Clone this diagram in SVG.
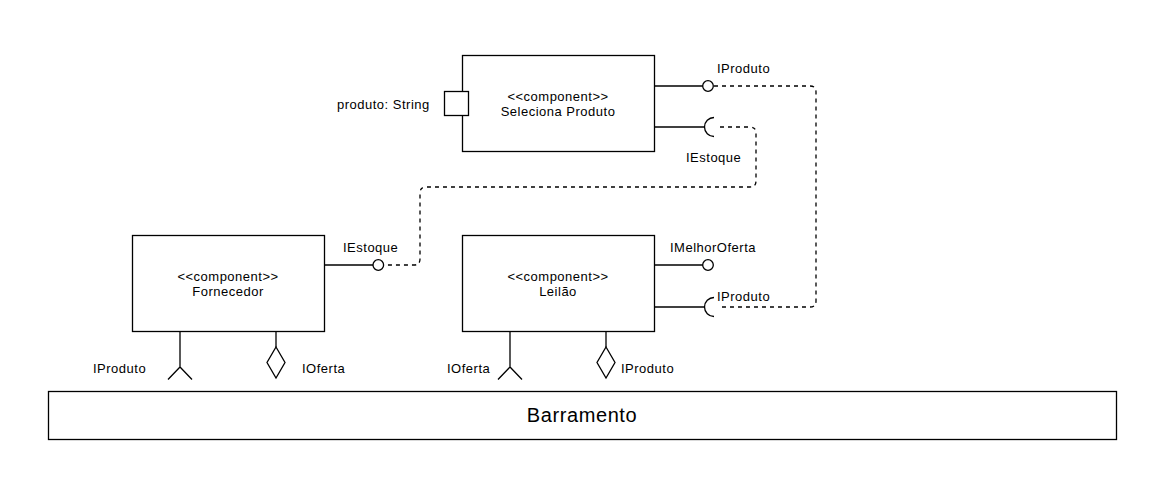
<svg xmlns="http://www.w3.org/2000/svg" width="1169" height="491" viewBox="0 0 1169 491">
<style>
.box{fill:#fff;stroke:#000;stroke-width:1.3}
.ln{fill:none;stroke:#000;stroke-width:1.3}
.dash{fill:none;stroke:#000;stroke-width:1.3;stroke-dasharray:4 4}
.lolli{fill:#fff;stroke:#000;stroke-width:1.3}
text{font-family:"Liberation Sans",Arial,sans-serif;font-size:13px;letter-spacing:0.5px;fill:#000}
.c{text-anchor:middle}
.big{font-size:20px;letter-spacing:0.6px}
</style>
<rect width="1169" height="491" fill="#fff"/>
<g id="connectors">
<path class="dash" d="M720,127 H750 Q756,127 756,133 V181 Q756,187 750,187 H426 Q420,187 420,193 V259 Q420,265 414,265 H383.5"/>
<path class="dash" d="M714,86 H810 Q816,86 816,92 V301 Q816,307 810,307 H720"/>
</g>
<g id="seleciona-produto">
<rect class="box" x="462.5" y="55.5" width="192" height="96"/>
<text class="c" x="558" y="100.5">&lt;&lt;component&gt;&gt;</text>
<text class="c" x="558" y="116">Seleciona Produto</text>
<rect class="box" x="444.5" y="91.5" width="24" height="24"/>
<text x="337" y="108.5">produto: String</text>
<path class="ln" d="M654.5,86 H703"/>
<circle class="lolli" cx="708" cy="86" r="5.3"/>
<text x="717" y="72.5">IProduto</text>
<path class="ln" d="M654.5,127 H704.5"/>
<path class="ln" d="M714,117.5 A9.5,9.5 0 0 0 714,136.5"/>
<text x="686" y="161.5">IEstoque</text>
</g>
<g id="fornecedor">
<rect class="box" x="132.5" y="235.5" width="192" height="96"/>
<text class="c" x="228" y="280.5">&lt;&lt;component&gt;&gt;</text>
<text class="c" x="228" y="296">Fornecedor</text>
<path class="ln" d="M324.5,265 H373"/>
<circle class="lolli" cx="378.3" cy="265" r="5.3"/>
<text x="343" y="252">IEstoque</text>
<path class="ln" d="M180,331.5 V367 M168,379.5 L180,367 L192,379.5"/>
<text x="93" y="372.5">IProduto</text>
<path class="ln" d="M276,331.5 V347"/>
<path class="lolli" d="M276,347 L285,362.5 L276,378 L267,362.5 Z"/>
<text x="302" y="372.5">IOferta</text>
</g>
<g id="leilao">
<rect class="box" x="462.5" y="235.5" width="192" height="96"/>
<text class="c" x="558" y="280.5">&lt;&lt;component&gt;&gt;</text>
<text class="c" x="558" y="296">Leilão</text>
<path class="ln" d="M654.5,265 H703"/>
<circle class="lolli" cx="708" cy="265" r="5.3"/>
<text x="670" y="252">IMelhorOferta</text>
<path class="ln" d="M654.5,307 H704.5"/>
<path class="ln" d="M714,297.5 A9.5,9.5 0 0 0 714,316.5"/>
<text x="717" y="301">IProduto</text>
<path class="ln" d="M510,331.5 V367 M498,379.5 L510,367 L522,379.5"/>
<text x="447" y="372.5">IOferta</text>
<path class="ln" d="M606,331.5 V347"/>
<path class="lolli" d="M606,347 L615,362.5 L606,378 L597,362.5 Z"/>
<text x="621" y="372.5">IProduto</text>
</g>
<g id="barramento">
<rect class="box" x="48.5" y="391.5" width="1068" height="48"/>
<text class="c big" x="582" y="422">Barramento</text>
</g>
</svg>
